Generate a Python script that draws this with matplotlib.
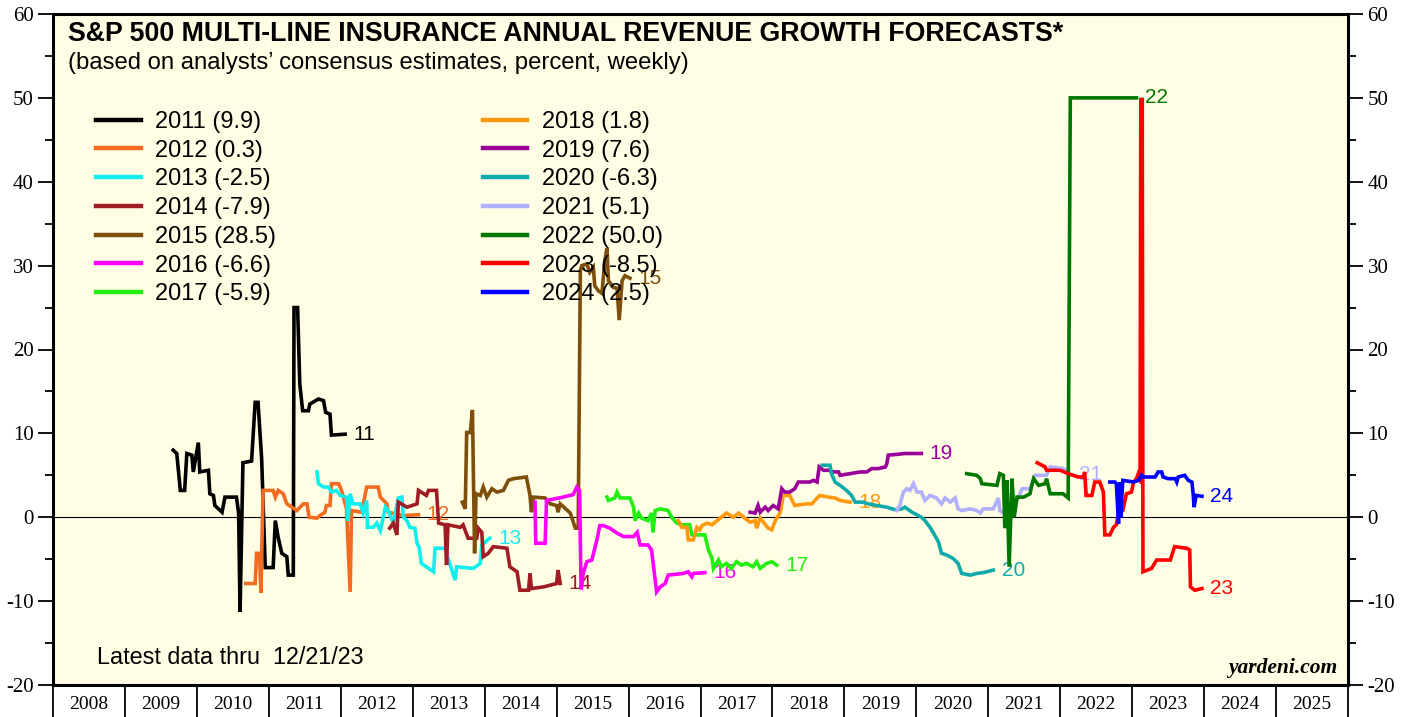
"""
S&P 500 Multi-Line Insurance annual revenue growth forecasts (yardeni style chart)
"""

import matplotlib
matplotlib.use('Agg')
import matplotlib.pyplot as plt
from matplotlib.ticker import MultipleLocator

plt.rcParams['font.family'] = ['Liberation Sans', 'DejaVu Sans']
plt.rcParams['axes.unicode_minus'] = False

# Data (weekly consensus, percent)
years = ['2011', '2012', '2013', '2014', '2015', '2016', '2017',
         '2018', '2019', '2020', '2021', '2022', '2023', '2024']
latest = [9.9, 0.3, -2.5, -7.9, 28.5, -6.6, -5.9,
          1.8, 7.6, -6.3, 5.1, 50.0, -8.5, 2.5]

x_2011 = [2009.67, 2009.72, 2009.77, 2009.83, 2009.86, 2009.93, 2009.95, 2010.02, 2010.04, 2010.16,
          2010.18, 2010.23, 2010.25, 2010.35, 2010.39, 2010.55, 2010.58, 2010.60, 2010.64, 2010.76,
          2010.81, 2010.85, 2010.90, 2010.95, 2011.06, 2011.09, 2011.13, 2011.18, 2011.25, 2011.27,
          2011.34, 2011.35, 2011.40, 2011.43, 2011.47, 2011.55, 2011.57, 2011.69, 2011.76, 2011.79,
          2011.85, 2011.87, 2012.06]
y_2011 = [8.0, 7.6, 3.2, 3.2, 7.6, 7.4, 5.4, 8.9, 5.4, 5.6,
          2.8, 2.6, 1.4, 0.6, 2.4, 2.4, 0.5, -11.3, 6.5, 6.7,
          13.7, 13.7, 7.0, -6.0, -6.0, -0.4, -2.4, -4.3, -4.7, -6.9,
          -6.9, 25.0, 25.0, 15.9, 12.7, 12.7, 13.5, 14.1, 13.9, 12.5,
          12.3, 9.8, 9.9]

x_2012 = [2010.68, 2010.81, 2010.83, 2010.87, 2010.89, 2010.92, 2011.06, 2011.09, 2011.13, 2011.20,
          2011.25, 2011.32, 2011.39, 2011.48, 2011.53, 2011.56, 2011.67, 2011.71, 2011.78, 2011.80,
          2011.85, 2011.87, 2011.97, 2012.01, 2012.08, 2012.13, 2012.15, 2012.29, 2012.36, 2012.52,
          2012.55, 2012.64, 2012.66, 2012.87, 2013.08]
y_2012 = [-7.9, -7.9, -4.3, -4.3, -9.0, 3.2, 3.2, 2.4, 3.2, 2.8,
          1.6, 1.2, 0.8, 1.6, 1.6, 0.0, -0.1, 0.2, 0.6, 1.4,
          1.4, 4.0, 4.0, 3.2, 1.0, -8.9, 0.8, 0.6, 3.6, 3.6,
          2.4, 1.6, 0.6, 0.2, 0.3]

x_2013 = [2011.67, 2011.69, 2011.76, 2011.83, 2011.87, 2011.94, 2011.99, 2012.08, 2012.10, 2012.13,
          2012.17, 2012.27, 2012.31, 2012.36, 2012.37, 2012.45, 2012.50, 2012.55, 2012.62, 2012.66,
          2012.73, 2012.80, 2012.85, 2012.87, 2012.92, 2012.96, 2013.03, 2013.06, 2013.09, 2013.12,
          2013.29, 2013.31, 2013.45, 2013.49, 2013.59, 2013.61, 2013.84, 2013.94, 2013.96, 2014.07]
y_2013 = [5.4, 4.0, 3.6, 3.6, 3.0, 3.2, 2.6, 2.4, -0.4, 2.8,
          1.6, 1.6, 0.5, 2.0, -1.2, -1.2, -0.7, -1.6, 1.2, 0.8,
          -0.7, 2.3, 2.4, 0.0, -0.4, -1.2, -1.3, -3.1, -3.6, -5.5,
          -6.5, -3.7, -3.7, -4.9, -7.5, -5.9, -6.1, -5.5, -3.3, -2.5]

x_2014 = [2012.68, 2012.73, 2012.78, 2012.80, 2012.92, 2013.06, 2013.08, 2013.19, 2013.22, 2013.33,
          2013.36, 2013.45, 2013.47, 2013.49, 2013.66, 2013.70, 2013.77, 2013.89, 2013.91, 2013.96,
          2013.98, 2014.05, 2014.12, 2014.31, 2014.35, 2014.45, 2014.49, 2014.61, 2014.63, 2014.65,
          2014.82, 2015.00, 2015.02, 2015.05]
y_2014 = [-1.3, -0.7, -2.1, 1.8, 1.2, 1.6, 3.2, 2.6, 3.2, 3.2,
          -0.7, -0.9, -5.7, -0.9, -1.2, -0.9, -2.5, -2.5, -1.3, -1.8,
          -4.7, -4.3, -3.5, -3.7, -5.9, -6.5, -8.7, -8.7, -6.7, -8.5,
          -8.3, -7.9, -6.3, -7.9]

x_2015 = [2013.69, 2013.73, 2013.75, 2013.80, 2013.83, 2013.86, 2013.88, 2013.94, 2013.98, 2014.03,
          2014.10, 2014.17, 2014.26, 2014.33, 2014.40, 2014.58, 2014.63, 2014.65, 2014.68, 2014.84,
          2014.91, 2015.00, 2015.02, 2015.05, 2015.19, 2015.26, 2015.30, 2015.33, 2015.35, 2015.42,
          2015.46, 2015.51, 2015.53, 2015.58, 2015.63, 2015.67, 2015.70, 2015.72, 2015.79, 2015.84,
          2015.87, 2015.91, 2015.95, 2016.02]
y_2015 = [1.8, 1.0, 10.1, 10.1, 12.8, -4.3, 2.8, 2.6, 3.6, 2.4,
          3.4, 3.0, 3.2, 4.4, 4.6, 4.8, 2.6, 0.6, 2.4, 2.3,
          1.6, 1.4, 0.6, 1.6, 0.5, -1.3, -1.3, 29.4, 30.0, 30.2,
          29.2, 29.8, 27.6, 27.0, 26.7, 30.6, 32.1, 28.2, 27.4, 27.3,
          23.5, 28.2, 28.8, 28.5]

x_2016 = [2014.70, 2014.71, 2014.84, 2014.86, 2015.09, 2015.23, 2015.28, 2015.32, 2015.34, 2015.37,
          2015.42, 2015.49, 2015.56, 2015.60, 2015.65, 2015.74, 2015.84, 2015.93, 2016.07, 2016.12,
          2016.16, 2016.27, 2016.32, 2016.39, 2016.44, 2016.51, 2016.55, 2016.76, 2016.83, 2016.88,
          2016.90, 2017.06]
y_2016 = [1.8, -3.1, -3.1, 2.0, 2.4, 2.7, 3.6, 3.2, -8.6, -6.7,
          -5.3, -5.1, -2.7, -1.0, -1.0, -1.3, -1.9, -2.3, -2.3, -1.8,
          -3.3, -3.3, -3.9, -8.9, -8.3, -7.9, -6.9, -6.7, -6.5, -7.1,
          -6.7, -6.6]

x_2017 = [2015.70, 2015.72, 2015.81, 2015.84, 2015.88, 2016.02, 2016.07, 2016.09, 2016.14, 2016.18,
          2016.27, 2016.32, 2016.34, 2016.37, 2016.44, 2016.55, 2016.60, 2016.67, 2016.74, 2016.85,
          2016.88, 2017.06, 2017.11, 2017.16, 2017.18, 2017.25, 2017.29, 2017.36, 2017.43, 2017.50,
          2017.57, 2017.64, 2017.73, 2017.78, 2017.83, 2017.92, 2017.99, 2018.06]
y_2017 = [2.4, 2.0, 2.3, 3.0, 2.3, 2.3, 1.2, -0.4, 0.5, -0.1,
          -0.4, 0.5, -1.8, 0.8, 1.0, 0.8, 0.0, -0.7, -0.9, -0.9,
          -2.1, -2.1, -3.9, -4.9, -6.1, -5.1, -5.9, -5.5, -6.1, -5.3,
          -5.7, -5.5, -5.9, -5.3, -6.1, -5.5, -5.3, -5.7]

x_2018 = [2016.69, 2016.74, 2016.81, 2016.83, 2016.90, 2016.95, 2016.99, 2017.02, 2017.09, 2017.16,
          2017.23, 2017.29, 2017.36, 2017.46, 2017.53, 2017.60, 2017.69, 2017.76, 2017.78, 2017.83,
          2017.94, 2017.99, 2018.04, 2018.11, 2018.15, 2018.24, 2018.31, 2018.48, 2018.55, 2018.62,
          2018.66, 2018.78, 2018.87, 2018.94, 2019.08]
y_2018 = [-0.4, -1.2, -1.2, -2.7, -2.7, -1.2, -1.5, -1.0, -0.7, -0.9,
          -0.4, 0.0, 0.5, 0.0, 0.5, 0.0, -0.6, -0.4, -1.3, -0.1,
          -1.3, -1.5, -0.4, 0.6, 2.6, 2.6, 1.4, 1.6, 1.6, 2.3,
          2.6, 2.4, 2.3, 2.0, 1.8]

x_2019 = [2017.69, 2017.76, 2017.80, 2017.83, 2017.90, 2017.94, 2018.01, 2018.08, 2018.13, 2018.17,
          2018.24, 2018.31, 2018.36, 2018.52, 2018.57, 2018.62, 2018.65, 2018.71, 2018.78, 2018.85,
          2018.92, 2018.94, 2019.08, 2019.22, 2019.31, 2019.38, 2019.47, 2019.57, 2019.59, 2019.61,
          2019.73, 2019.84, 2019.96, 2020.07]
y_2019 = [0.6, 0.5, 1.4, 0.6, 1.2, 0.8, 1.4, 1.0, 3.4, 3.0,
          3.0, 3.4, 4.2, 4.2, 4.4, 4.2, 6.0, 5.6, 5.6, 5.4,
          5.4, 5.0, 5.2, 5.4, 5.4, 5.8, 5.8, 6.0, 6.4, 7.4,
          7.5, 7.6, 7.6, 7.6]

x_2020 = [2018.69, 2018.80, 2018.82, 2018.87, 2018.94, 2019.03, 2019.10, 2019.15, 2019.26, 2019.33,
          2019.45, 2019.59, 2019.70, 2019.80, 2019.84, 2019.94, 2020.03, 2020.07, 2020.12, 2020.19,
          2020.24, 2020.31, 2020.35, 2020.42, 2020.51, 2020.58, 2020.63, 2020.75, 2020.84, 2020.93,
          2021.07]
y_2020 = [6.2, 6.2, 5.2, 4.2, 3.8, 3.2, 2.6, 1.8, 1.8, 1.6,
          1.4, 1.2, 0.9, 1.0, 1.2, 0.6, 0.2, 0.0, -0.4, -1.2,
          -1.9, -3.0, -4.3, -4.5, -4.9, -5.5, -6.7, -6.9, -6.7, -6.6,
          -6.3]

x_2021 = [2019.73, 2019.77, 2019.82, 2019.87, 2019.91, 2019.96, 2020.01, 2020.07, 2020.12, 2020.19,
          2020.28, 2020.35, 2020.40, 2020.47, 2020.54, 2020.58, 2020.63, 2020.75, 2020.84, 2020.89,
          2020.93, 2021.07, 2021.14, 2021.16, 2021.21, 2021.40, 2021.47, 2021.58, 2021.65, 2021.81,
          2021.86, 2022.04, 2022.14]
y_2021 = [0.8, 1.4, 3.0, 3.4, 3.2, 4.0, 3.0, 3.0, 2.0, 2.6,
          2.3, 1.6, 2.3, 1.8, 2.3, 1.0, 0.8, 1.0, 0.8, 0.5,
          1.0, 1.0, 2.3, 0.8, 0.5, 2.0, 3.4, 3.4, 5.0, 5.0,
          6.0, 5.8, 5.1]

x_2022 = [2020.70, 2020.84, 2020.89, 2020.91, 2021.12, 2021.16, 2021.21, 2021.23, 2021.26, 2021.29,
          2021.33, 2021.36, 2021.40, 2021.49, 2021.58, 2021.60, 2021.63, 2021.70, 2021.79, 2021.81,
          2021.86, 2022.04, 2022.11, 2022.14, 2023.06]
y_2022 = [5.2, 5.0, 4.6, 4.0, 3.8, 5.2, 5.0, -1.3, 4.4, -5.9,
          4.6, 0.0, 2.4, 2.4, 2.8, 3.6, 4.6, 3.8, 4.0, 4.6,
          2.8, 2.8, 2.3, 50.0, 50.0]

x_2023 = [2021.68, 2021.79, 2021.81, 2022.00, 2022.11, 2022.25, 2022.32, 2022.34, 2022.36, 2022.44,
          2022.48, 2022.55, 2022.60, 2022.62, 2022.69, 2022.74, 2022.78, 2022.81, 2022.87, 2022.92,
          2022.99, 2023.02, 2023.06, 2023.11, 2023.12, 2023.13, 2023.14, 2023.15, 2023.27, 2023.34,
          2023.53, 2023.59, 2023.76, 2023.80, 2023.81, 2023.87, 2023.97]
y_2023 = [6.5, 6.0, 5.6, 5.6, 5.2, 4.8, 4.8, 5.4, 2.6, 2.6,
          4.2, 4.2, 3.0, -2.1, -2.1, -1.2, -0.9, 0.5, 0.8, 2.8,
          3.0, 4.2, 4.6, 5.8, 50.0, 4.0, 50.0, -6.5, -6.1, -5.1,
          -5.1, -3.5, -3.7, -3.9, -8.3, -8.7, -8.5]

x_2024 = [2022.69, 2022.76, 2022.78, 2022.81, 2022.83, 2022.84, 2022.87, 2023.02, 2023.09, 2023.13,
          2023.15, 2023.32, 2023.36, 2023.41, 2023.43, 2023.50, 2023.60, 2023.62, 2023.64, 2023.73,
          2023.78, 2023.83, 2023.85, 2023.86, 2023.89, 2023.97]
y_2024 = [4.2, 4.2, 4.0, -0.8, 4.2, 0.0, 4.4, 4.2, 4.4, 5.0,
          4.8, 4.8, 5.4, 5.4, 4.8, 4.6, 4.6, 4.2, 4.8, 5.0,
          4.4, 4.2, 2.6, 1.2, 2.6, 2.5]

xs = [x_2011, x_2012, x_2013, x_2014, x_2015, x_2016, x_2017,
      x_2018, x_2019, x_2020, x_2021, x_2022, x_2023, x_2024]
ys = [y_2011, y_2012, y_2013, y_2014, y_2015, y_2016, y_2017,
      y_2018, y_2019, y_2020, y_2021, y_2022, y_2023, y_2024]

colors = ['#000000', '#f26b21', '#11eeee', '#a01c24', '#7d4e0c', '#ff00ff', '#22ee11',
          '#ff9a10', '#990099', '#11aaaa', '#b0b0ff', '#007700', '#ff0000', '#0000ff']

W, H = 1414, 717
L, R, T, B = 53, 1348, 14, 685


def main():
    fig = plt.figure(figsize=(W / 100, H / 100), dpi=100)
    ax = fig.add_axes([L / W, 1 - B / H, (R - L) / W, (B - T) / H])
    ax.set_facecolor('#fffee4')

    ax.axhline(0, color='black', lw=0.8, zorder=1)

    handles = []
    for yr, val, x, y, c in zip(years, latest, xs, ys, colors):
        line, = ax.plot(x, y, color=c, lw=2.6, solid_joinstyle='miter',
                        label=f'{yr} ({val:.1f})', zorder=3)
        handles.append(line)
        ax.annotate(yr[2:], xy=(x[-1], y[-1]), xytext=(6, 0), textcoords='offset points',
                    va='center', ha='left', color=c, fontsize=15)

    ax.set_xlim(2008, 2026)
    ax.set_ylim(-20, 60)

    # y axis on both sides, serif labels
    ax.yaxis.set_major_locator(MultipleLocator(10))
    ax.yaxis.set_minor_locator(MultipleLocator(5))
    ax.tick_params(axis='y', which='both', direction='out', left=True, right=True,
                   labelleft=True, labelright=True, width=1.3, pad=3)
    ax.tick_params(axis='y', which='major', length=11)
    ax.tick_params(axis='y', which='minor', length=6)
    for lab in ax.get_yticklabels():
        lab.set_fontfamily('Liberation Serif')
        lab.set_fontsize(15)

    # x axis: year boundaries as ticks, year names centred in between
    ax.set_xticks(range(2008, 2027))
    ax.set_xticklabels([])
    ax.set_xticks([v + 0.5 for v in range(2008, 2026)], minor=True)
    ax.set_xticklabels([str(v) for v in range(2008, 2026)], minor=True,
                       fontfamily='Liberation Serif', fontsize=14)
    ax.tick_params(axis='x', which='major', direction='out', length=24, width=1.3)
    ax.tick_params(axis='x', which='minor', length=0, pad=8)

    for sp in ax.spines.values():
        sp.set_linewidth(2.2)

    leg = ax.legend(handles=handles, ncol=2, loc='upper left',
                    bbox_to_anchor=((96 - L) / (R - L), (B - 111) / (B - T)),
                    frameon=False, fontsize=17, handlelength=1.9, handletextpad=0.6,
                    labelspacing=0.285, columnspacing=8.75, borderpad=0, borderaxespad=0)
    for ln in leg.get_lines():
        ln.set_linewidth(3.2)

    fig.text(68 / W, 1 - 34 / H, 'S&P 500 MULTI-LINE INSURANCE ANNUAL REVENUE GROWTH FORECASTS*',
             fontsize=19.3, fontweight='bold', va='center', ha='left')
    fig.text(68 / W, 1 - 63 / H, '(based on analysts\u2019 consensus estimates, percent, weekly)',
             fontsize=17.2, va='center', ha='left')
    fig.text(97 / W, 1 - 657 / H, 'Latest data thru  12/21/23', fontsize=16.8, va='center', ha='left')
    fig.text(1337 / W, 1 - 668 / H, 'yardeni.com', fontsize=15.5, va='center', ha='right',
             fontfamily='Liberation Serif', fontweight='bold', fontstyle='italic')

    fig.savefig('out.png', dpi=100, facecolor='white')


if __name__ == '__main__':
    main()
